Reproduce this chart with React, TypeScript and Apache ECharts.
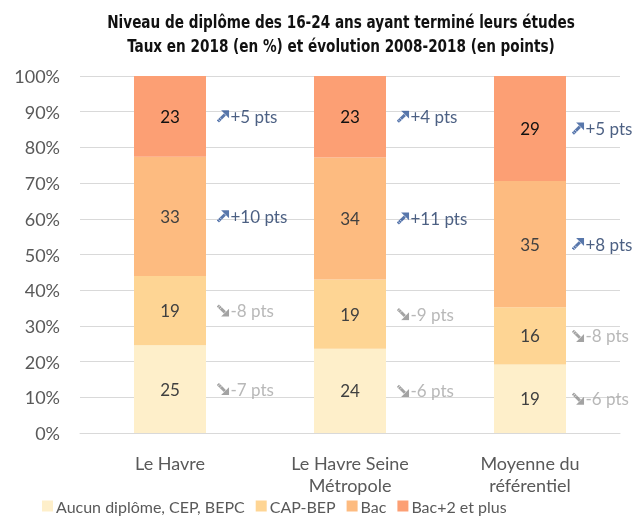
import React, { useEffect, useRef } from "react";
import * as echarts from "echarts";

const categories = ["Le Havre", "Le Havre Seine\nMétropole", "Moyenne du\nréférentiel"];
const seriesNames = ["Aucun diplôme, CEP, BEPC", "CAP-BEP", "Bac", "Bac+2 et plus"];
const aucun = [24.6, 23.6, 19.2];
const capBep = [19.4, 19.4, 16.0];
const bac = [33.4, 34.2, 35.4];
const bac2 = [22.6, 22.8, 29.4];
const evoAucun = [-7, -6, -6];
const evoCap = [-8, -9, -8];
const evoBac = [10, 11, 8];
const evoBac2 = [5, 4, 5];
const yTicks = [0, 10, 20, 30, 40, 50, 60, 70, 80, 90, 100];
const titleLines = [
  "Niveau de diplôme des 16-24 ans ayant terminé leurs études",
  "Taux en 2018 (en %) et évolution 2008-2018 (en points)",
];

const colors = ["#FEEFCA", "#FED594", "#FDBB80", "#FC9F74"];
const FONT = "Lato, 'Open Sans', sans-serif";

const svgUri = (s: string) => "data:image/svg+xml;charset=utf-8," + encodeURIComponent(s);
const upIcon = svgUri(
  "<svg xmlns='http://www.w3.org/2000/svg' width='14' height='14' viewBox='0 0 14 14'>" +
    "<line x1='1.5' y1='12.5' x2='9' y2='5' stroke='#2F5597' stroke-width='3.2'/>" +
    "<polygon points='13.5,0.5 13.5,9 5,0.5' fill='#2F5597'/>" +
    "<line x1='1.8' y1='10.2' x2='3.8' y2='12.2' stroke='#C5D3EE' stroke-width='0.9'/>" +
    "<line x1='3.6' y1='8.4' x2='5.6' y2='10.4' stroke='#C5D3EE' stroke-width='0.9'/>" +
    "</svg>"
);
const downIcon = svgUri(
  "<svg xmlns='http://www.w3.org/2000/svg' width='14' height='14' viewBox='0 0 14 14'>" +
    "<line x1='1.5' y1='1.5' x2='9' y2='9' stroke='#8C8C8C' stroke-width='3.2'/>" +
    "<polygon points='13.5,13.5 13.5,5 5,13.5' fill='#8C8C8C'/>" +
    "<line x1='1.8' y1='3.8' x2='3.8' y2='1.8' stroke='#E0E0E0' stroke-width='0.9'/>" +
    "<line x1='3.6' y1='5.6' x2='5.6' y2='3.6' stroke='#E0E0E0' stroke-width='0.9'/>" +
    "</svg>"
);

export default function App() {
  const ref = useRef<HTMLDivElement>(null);
  useEffect(() => {
    if (!ref.current) return;
    const chart = echarts.init(ref.current, undefined, { renderer: "svg" });
    const layers = [aucun, capBep, bac, bac2];
    const evos = [evoAucun, evoCap, evoBac, evoBac2];

    const barSeries = layers.map((vals, k) => ({
      name: seriesNames[k],
      type: "bar",
      stack: "total",
      barWidth: 72,
      itemStyle: { color: colors[k] },
      label: {
        show: true,
        position: "inside",
        fontFamily: FONT,
        fontSize: 17,
        color: k === 3 ? "#111111" : "#404040",
        formatter: (p: any) => String(Math.round(p.value)),
      },
      data: vals,
    }));

    const annSeries = layers.map((vals, k) => {
      const data = vals.map((v, i) => {
        let base = 0;
        for (let j = 0; j < k; j++) base += layers[j][i];
        const item: any = { value: [i, base + v / 2], evo: evos[k][i] };
        if (i === 2) item.label = { distance: 41 };
        return item;
      });
      return {
        type: "scatter",
        symbolSize: 1,
        silent: true,
        itemStyle: { color: "rgba(0,0,0,0)" },
        label: {
          show: true,
          position: "right",
          distance: 46,
          formatter: (p: any) => {
            const e = p.data.evo;
            return e > 0 ? `{au| }{at|+${e} pts}` : `{du| }{dt|${e} pts}`;
          },
          rich: {
            au: { width: 13, height: 13, backgroundColor: { image: upIcon } },
            at: { color: "#1F3864", fontSize: 17, fontFamily: FONT, padding: [0, 0, 0, 1] },
            du: { width: 13, height: 13, backgroundColor: { image: downIcon } },
            dt: { color: "#A6A6A6", fontSize: 17, fontFamily: FONT, padding: [0, 0, 0, 1] },
          },
        },
        data,
      };
    });

    chart.setOption({
      animation: false,
      graphic: titleLines.map((t, i) => ({
        type: "text",
        x: 341,
        y: 22 + i * 24,
        scaleX: 0.89,
        style: {
          text: t,
          textAlign: "center",
          textVerticalAlign: "middle",
          fontFamily: "'Liberation Sans Narrow', 'DejaVu Sans Condensed', sans-serif",
          fontWeight: "bold",
          fontSize: 17,
          fill: "#111111",
        },
      })),
      legend: {
        data: seriesNames,
        left: 42,
        top: 498,
        padding: 0,
        icon: "rect",
        itemWidth: 11,
        itemHeight: 11,
        itemGap: 11,
        textStyle: { fontFamily: FONT, fontSize: 16, color: "#595959", padding: [0, 0, 0, -2] },
      },
      grid: { left: 80, right: 20, top: 76, bottom: 85 },
      xAxis: {
        type: "category",
        data: categories,
        axisLine: { lineStyle: { color: "#D9D9D9" } },
        axisTick: { show: false },
        axisLabel: {
          fontFamily: FONT,
          fontSize: 18,
          color: "#595959",
          lineHeight: 22,
          margin: 19,
        },
      },
      yAxis: {
        type: "value",
        min: yTicks[0],
        max: yTicks[yTicks.length - 1],
        interval: 10,
        axisLine: { show: false },
        axisTick: { show: false },
        splitLine: { lineStyle: { color: "#D9D9D9" } },
        axisLabel: {
          fontFamily: FONT,
          fontSize: 18,
          color: "#595959",
          margin: 20,
          formatter: "{value}%",
        },
      },
      series: [...barSeries, ...annSeries],
    });
    return () => chart.dispose();
  }, []);
  return (
    <div
      ref={ref}
      style={{ position: "fixed", left: 0, top: 0, width: 640, height: 518 }}
    />
  );
}
